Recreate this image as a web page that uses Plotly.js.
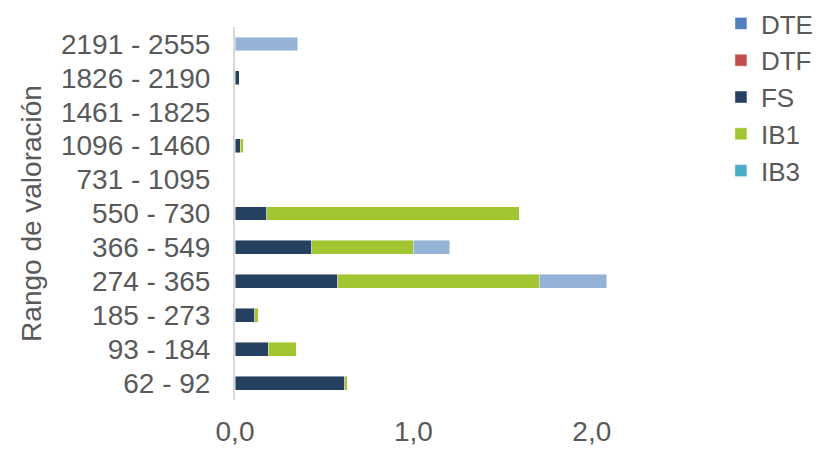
<!DOCTYPE html>
<html><head><meta charset="utf-8">
<script src="https://cdn.plot.ly/plotly-3.0.1.min.js"></script>
<style>html,body{margin:0;padding:0;background:#fff}#chart{width:823px;height:449px}</style>
</head><body><div id="chart"></div>
<script>
const categories = ["62 - 92","93 - 184","185 - 273","274 - 365","366 - 549","550 - 730","731 - 1095","1096 - 1460","1461 - 1825","1826 - 2190","2191 - 2555"];
const DTE = [0,0,0,0,0,0,0,0,0,0,0];
const DTF = [0,0,0,0,0,0,0,0,0,0,0];
const FS  = [0.616,0.187,0.112,0.577,0.431,0.179,0,0.028,0,0.026,0];
const IB1 = [0.015,0.160,0.022,1.128,0.568,1.414,0,0.022,0,0,0];
const IB3 = [0,0,0,0,0,0,0,0,0,0,0];
const S6  = [0,0,0,0.379,0.205,0,0,0,0,0,0.351];
const xTicks = [0,1,2];

const font = "Liberation Sans, Arial, sans-serif";
const mk = (name, vals, color, show=true) => ({
  type:'bar', orientation:'h', name:name, y:categories, x:vals,
  marker:{color:color, line:{color:'rgba(255,255,255,0.6)', width:0.75}},
  showlegend:show, hoverinfo:'x+name'
});
const data = [
  mk('DTE', DTE, '#4F81BD'),
  mk('DTF', DTF, '#C0504D'),
  mk('FS', FS, '#254061'),
  mk('IB1', IB1, '#A1C631'),
  mk('IB3', IB3, '#4BACC6'),
  mk('Serie 6', S6, '#95B3D7', false)
];
const layout = {
  width:823, height:449,
  margin:{l:235, r:142, t:27, b:49},
  barmode:'stack', bargap:0.59,
  paper_bgcolor:'#fff', plot_bgcolor:'#fff',
  font:{family:font, size:28, color:'#595959'},
  separators:',.',
  xaxis:{range:[0,2.5], tickvals:xTicks, tickformat:'.1f', showgrid:false, zeroline:false,
    showline:false, ticks:'', ticklabelstandoff:12, automargin:false, fixedrange:true},
  yaxis:{type:'category', tickmode:'array', tickvals:categories, ticktext:categories,
    showgrid:false, zeroline:false, showline:true, linecolor:'#d9d9d9', linewidth:2,
    ticks:'', ticklabelstandoff:17, automargin:false,
    title:{text:'Rango de valoración', standoff:11, font:{size:28, color:'#595959'}}},
  legend:{xref:'container', yref:'container', x:0.876, xanchor:'left', y:1.02, yanchor:'top', traceorder:'normal',
    font:{size:26, color:'#595959'}, itemwidth:30, tracegroupgap:0, bgcolor:'rgba(0,0,0,0)'},
  showlegend:true
};
Plotly.newPlot('chart', data, layout, {displayModeBar:false, staticPlot:true});
</script></body></html>
